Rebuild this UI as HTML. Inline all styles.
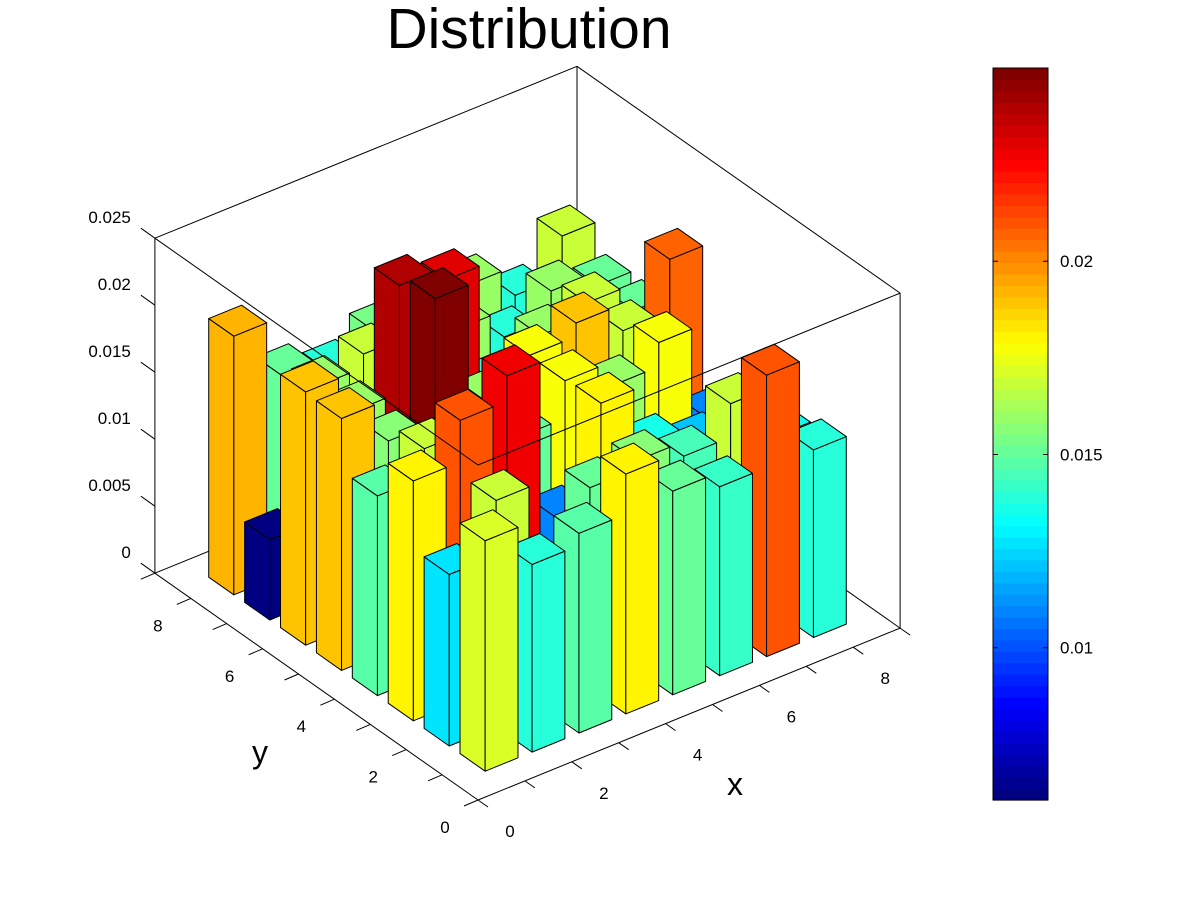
<!DOCTYPE html>
<html><head><meta charset="utf-8"><style>
body{margin:0;background:#fff;}
svg{display:block;font-family:"Liberation Sans",sans-serif;}
</style></head><body>
<svg id="chart" width="1200" height="902" viewBox="0 0 1200 902">
<rect width="1200" height="902" fill="#fff"/>
<text x="529" y="48" font-size="57" text-anchor="middle">Distribution</text>
<g id="box" stroke="#000" stroke-width="1" fill="none"></g>
<g id="bars"></g>
<g id="front" stroke="#000" stroke-width="1" fill="none"></g>
<g id="ticks"></g>
<text x="735" y="795" font-size="32" text-anchor="middle">x</text>
<text x="260" y="763" font-size="32" text-anchor="middle">y</text>
<g id="cbar"></g>
</svg>
<script>
const xCats = [1,2,3,4,5,6,7,8];
const yCats = [1,2,3,4,5,6,7,8];
const rowY1 = [0.0172,0.0140,0.0149,0.0179,0.0152,0.0141,0.0210,0.0140];
const rowY2 = [0.0128,0.0169,0.0100,0.0150,0.0156,0.0145,0.0170,0.0132];
const rowY3 = [0.0179,0.0210,0.0229,0.0110,0.0180,0.0135,0.0122,0.0130];
const rowY4 = [0.0149,0.0170,0.0160,0.0150,0.0178,0.0160,0.0178,0.0108];
const rowY5 = [0.0188,0.0157,0.0249,0.0160,0.0178,0.0188,0.0168,0.0207];
const rowY6 = [0.0189,0.0160,0.0240,0.0230,0.0140,0.0160,0.0170,0.0150];
const rowY7 = [0.0060,0.0160,0.0170,0.0150,0.0160,0.0140,0.0160,0.0150];
const rowY8 = [0.0193,0.0150,0.0139,0.0154,0.0150,0.0160,0.0138,0.0168];
const zTicks = [0,0.005,0.01,0.015,0.02,0.025];
const zTickLabels = ["0","0.005","0.01","0.015","0.02","0.025"];
const xyTicks = [0,2,4,6,8];
const cbTicks = [0.01,0.015,0.02];
const cbTickLabels = ["0.01","0.015","0.02"];
const cMin = 0.00606, cMax = 0.0250;

const rows = [rowY1,rowY2,rowY3,rowY4,rowY5,rowY6,rowY7,rowY8];
const NS = "http://www.w3.org/2000/svg";
function P(x,y,z){return [478+46.9*x-35.9*y, 800-19.1*x-25.2*y-13400*z];}
function jet(t){
  t=Math.max(0,Math.min(1,t));
  t=Math.floor(t*63.999)/63;
  const f=v=>Math.round(255*Math.max(0,Math.min(1,v)));
  return `rgb(${f(1.5-Math.abs(4*t-3))},${f(1.5-Math.abs(4*t-2))},${f(1.5-Math.abs(4*t-1))})`;
}
function cz(v){return jet((v-cMin)/(cMax-cMin));}
function line(g,a,b,name){
  const l=document.createElementNS(NS,"line");
  l.setAttribute("x1",a[0]);l.setAttribute("y1",a[1]);l.setAttribute("x2",b[0]);l.setAttribute("y2",b[1]);
  l.setAttribute("stroke","#000");
  
  
  g.appendChild(l);
}
function text(g,x,y,s,anchor,size,name){
  const t=document.createElementNS(NS,"text");
  t.setAttribute("x",x);t.setAttribute("y",y);t.setAttribute("font-size",size);
  t.setAttribute("text-anchor",anchor);t.textContent=s;
  
  
  g.appendChild(t);
}
const box=document.getElementById("box");
const zt=0.025;
line(box,P(0,9,0),P(9,9,0),"floor-back-edge");
line(box,P(9,9,0),P(9,0,0),"floor-right-edge");
line(box,P(0,9,0),P(0,9,zt),"back-left-vertical");
line(box,P(9,9,0),P(9,9,zt),"back-vertical");
line(box,P(9,0,0),P(9,0,zt),"right-vertical");
line(box,P(0,9,zt),P(9,9,zt),"top-back-left-edge");
line(box,P(9,9,zt),P(9,0,zt),"top-back-right-edge");
line(box,P(0,0,0),P(9,0,0),"x-axis-line");
line(box,P(0,0,0),P(0,9,0),"y-axis-line");
const bars=document.getElementById("bars");
const list=[];
yCats.forEach((yv,j)=>xCats.forEach((xv,i)=>list.push({x:xv,y:yv,h:rows[j][i]})));
list.sort((a,b)=>(b.x+b.y)-(a.x+a.y));
const w=0.35;
list.forEach(b=>{
  const x0=b.x-w,x1=b.x+w,y0=b.y-w,y1=b.y+w,h=b.h;
  const col=cz(h);
  const faces=[
    [[x0,y1,0],[x0,y0,0],[x0,y0,h],[x0,y1,h]],
    [[x0,y0,0],[x1,y0,0],[x1,y0,h],[x0,y0,h]],
    [[x0,y0,h],[x1,y0,h],[x1,y1,h],[x0,y1,h]]
  ];
  const g=document.createElementNS(NS,"g");
  
  
  faces.forEach(f=>{
    const p=document.createElementNS(NS,"polygon");
    p.setAttribute("points",f.map(q=>P(q[0],q[1],q[2]).join(",")).join(" "));
    p.setAttribute("fill",col);p.setAttribute("stroke","#000");p.setAttribute("stroke-width","1");
    p.setAttribute("stroke-linejoin","round");
    g.appendChild(p);
  });
  bars.appendChild(g);
});
const front=document.getElementById("front");
line(front,P(0,9,zt),P(0,0,zt),"top-front-left-edge");
line(front,P(0,0,zt),P(9,0,zt),"top-front-right-edge");
const tk=document.getElementById("ticks");
zTicks.forEach((z,k)=>{
  const a=P(0,9,z);
  line(tk,a,[a[0]-14,a[1]-10],"z-tick");
  text(tk,a[0]-24,a[1]-15,zTickLabels[k],"end",17,"z-tick-label");
});
for(let v=0;v<=9;v++){
  const a=P(v,0,0);
  line(tk,a,[a[0]+10,a[1]+7],"x-tick");
  const b=P(0,v,0);
  line(tk,b,[b[0]-14,b[1]+6],"y-tick");
}
xyTicks.forEach(v=>{
  const a=P(v,0,0);
  text(tk,a[0]+32,a[1]+37,String(v),"middle",17,"x-tick-label");
  const b=P(0,v,0);
  text(tk,b[0]-33,b[1]+33,String(v),"middle",17,"y-tick-label");
});
const cb=document.getElementById("cbar");
const cbTop=68,cbBot=800,cbL=993,cbR=1048;
for(let k=0;k<64;k++){
  const r=document.createElementNS(NS,"rect");
  const yTop=cbTop+(cbBot-cbTop)*(63-k)/64;
  r.setAttribute("x",cbL);r.setAttribute("y",yTop);r.setAttribute("width",cbR-cbL);
  r.setAttribute("height",(cbBot-cbTop)/64+0.6);r.setAttribute("fill",jet(k/63));
  
  
  cb.appendChild(r);
}
const fr=document.createElementNS(NS,"rect");
fr.setAttribute("x",cbL);fr.setAttribute("y",cbTop);fr.setAttribute("width",cbR-cbL);fr.setAttribute("height",cbBot-cbTop);
fr.setAttribute("fill","none");fr.setAttribute("stroke","#000");


cb.appendChild(fr);
cbTicks.forEach((v,k)=>{
  const y=cbBot-(v-cMin)/(cMax-cMin)*(cbBot-cbTop);
  line(cb,[cbL,y],[cbL+5,y],"colorbar-tick");
  line(cb,[cbR-5,y],[cbR,y],"colorbar-tick");
  text(cb,1060,y+6,cbTickLabels[k],"start",17,"colorbar-tick-label");
});
</script>
</body></html>
